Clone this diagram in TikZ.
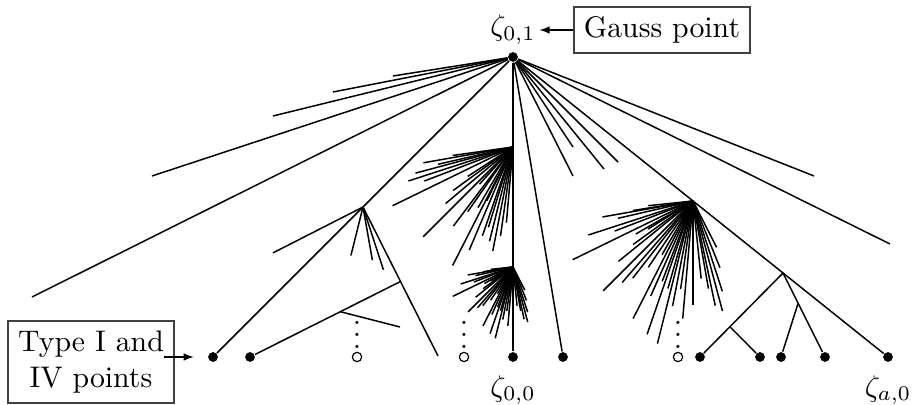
\documentclass[tikz,border=0pt]{standalone}
\usepackage{amsmath,amssymb}
\usetikzlibrary{arrows.meta,positioning,calc}

\newcommand\bigfan{190/92,193/77,189/61,186/45,198/110,201/84,206/134,210/66,212/53,216/74,219/96,225/127,229/108,232/98,236/80,240/62,243/132,246/104,249/86,251/141,254/91,256/147,259/107,262/89,265/118,270/104,276/78,280/89,282/107,285/114,288/95,292/72,297/52}
\newcommand\midfan{188/61,190/91,193/77,195/101,198/110,201/95,206/134,213/54,216/74,220/88,225/127,228/50,233/99,235/79,240/70,243/133,244/60,247/112,251/94,253/84,256/97,259/106,262/90,265/76}

\begin{document}
\begin{tikzpicture}[x=0.118mm, y=0.118mm, line width=0.5pt,
  pt/.style={circle, fill, inner sep=0pt, minimum size=1.15mm},
  hole/.style={circle, draw, line width=0.4pt, fill=white, inner sep=0pt, minimum size=1.1mm},
  box/.style={draw=black!75, semithick, align=center},
  arr/.style={-{Latex[length=1.2mm, width=0.9mm]}}
]
  \useasboundingbox (0,0) rectangle (915,405);
  \node[pt] (g) at (513,348) {};
  \foreach \n/\x in {p1/213, p2/250, z00/513, p3/563, p4/700, p5/760, p6/781, p7/825, za0/888}
    \node[pt] (\n) at (\x,48) {};
  \foreach \n/\x in {o1/357, o2/464, o3/678}{
    \node[hole] (\n) at (\x,48) {};
    \node[inner sep=0pt, above=0.3mm of \n] (v\n) {$\vdots$};
  }

  \node[above=0.4mm of g, inner sep=1pt] (lz01) {$\zeta_{0,1}$};
  \node[below=0.3mm of z00] (lz00) {$\zeta_{0,0}$};
  \node[below=0.3mm of za0] (lza0) {$\zeta_{a,0}$};
  \node[box] (gauss) at (662,375) {Gauss point};
  \node[box] (type) at (91,43) {Type I and\\IV points};
  \draw[arr] (gauss.west) -- (gauss.west -| lz01.east);
  \draw[arr, shorten <=-1.2mm, shorten >=1.6mm] (type.east |- p1) -- (p1);

  \foreach \x/\y [count=\i] in {152/229, 32/108, 273/289, 333/313, 393/329, 573/258, 573/229, 604/236, 618/243, 814/229, 890/161}{
    \coordinate (l\i) at (\x,\y);
    \draw (g) -- (l\i);
  }

  \draw (g) -- (p1);
  \coordinate (b1) at ($(g)!0.5!(p1)$);
  \coordinate (b1e) at (438,49);
  \draw (b1) -- (b1e);
  \foreach \a/\l in {207/101, 256/50, 280/54, 288/66}
    \draw (b1) -- ++(\a:\l);
  \coordinate (c1) at ($(b1)!0.5!(b1e)$);
  \draw (c1) -- (p2);
  \coordinate (c2) at ($(c1)!0.4!(p2)$);
  \coordinate (c2e) at (400,78);
  \draw (c2) -- (c2e);

  \draw (g) -- (z00);
  \draw (g) -- (p3);
  \coordinate (b2) at ($(g)!0.3!(z00)$);
  \coordinate (b2b) at ($(g)!0.7!(z00)$);
  \foreach \a/\l in \midfan
    \draw (b2) -- ++(\a:\l);

  \draw (g) -- (za0);
  \coordinate (b3) at ($(g)!0.48!(za0)$);
  \coordinate (b4) at ($(g)!0.72!(za0)$);
  \foreach \a/\l in \bigfan{
    \draw (b3) -- ++(\a:\l);
    \draw (b2b) -- ++(\a:{0.5*\l});
  }
  \draw (b4) -- (p4);
  \coordinate (c3) at ($(b4)!0.64!(p4)$);
  \draw (c3) -- (p5);
  \draw (b4) -- (p7);
  \coordinate (c4) at ($(b4)!0.36!(p7)$);
  \draw (c4) -- (p6);
\end{tikzpicture}
\end{document}
